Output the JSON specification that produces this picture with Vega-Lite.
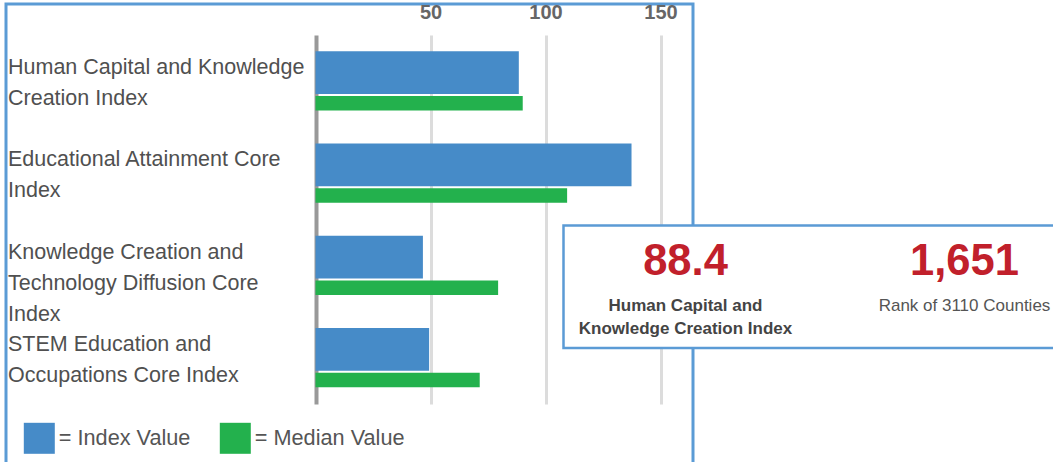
{
  "$schema": "https://vega.github.io/schema/vega-lite/v6.json",
  "background": "white",
  "padding": {"left": 6, "top": 2, "right": 0, "bottom": 0},
  "config": {"font": "Liberation Sans"},
  "datasets": {
    "bars": [
      {"category": "Human Capital and Knowledge Creation Index", "series": "Index Value", "value": 88.4},
      {"category": "Human Capital and Knowledge Creation Index", "series": "Median Value", "value": 90.1},
      {"category": "Educational Attainment Core Index", "series": "Index Value", "value": 137.4},
      {"category": "Educational Attainment Core Index", "series": "Median Value", "value": 109.4},
      {"category": "Knowledge Creation and Technology Diffusion Core Index", "series": "Index Value", "value": 46.7},
      {"category": "Knowledge Creation and Technology Diffusion Core Index", "series": "Median Value", "value": 79.4},
      {"category": "STEM Education and Occupations Core Index", "series": "Index Value", "value": 49.4},
      {"category": "STEM Education and Occupations Core Index", "series": "Median Value", "value": 71.4}
    ],
    "kpi": [
      {"metric": "score", "value": "88.4", "label": "Human Capital and\nKnowledge Creation Index"},
      {"metric": "rank", "value": "1,651", "label": "Rank of 3110 Counties"}
    ]
  },
  "width": 687,
  "height": 460,
  "view": {"stroke": "#5b9bd5", "strokeWidth": 3, "fill": "white"},
  "resolve": {"scale": {"x": "independent", "y": "independent"}},
  "layer": [
    {
      "data": {"name": "bars"},
      "encoding": {
        "y": {
          "field": "category",
          "type": "nominal",
          "sort": ["Human Capital and Knowledge Creation Index", "Educational Attainment Core Index", "Knowledge Creation and Technology Diffusion Core Index", "STEM Education and Occupations Core Index"],
          "scale": {"range": [31, 400], "paddingInner": 0, "paddingOuter": 0},
          "axis": {
            "orient": "left", "title": null, "domain": false, "ticks": false, "tickSize": 0, "grid": false,
            "offset": -1.5, "labelPadding": 0, "labelAlign": "left", "labelBaseline": "top", "labelOffset": -23.9,
            "labelFontSize": 21.5, "labelColor": "#505050", "labelFont": "Liberation Sans", "labelLineHeight": 31,
            "labelLimit": 500, "labelOverlap": false, "labelBound": false, "labelFlush": false,
            "labelExpr": "datum.label == 'Human Capital and Knowledge Creation Index' ? ['Human Capital and Knowledge', 'Creation Index'] : datum.label == 'Educational Attainment Core Index' ? ['Educational Attainment Core', 'Index'] : datum.label == 'Knowledge Creation and Technology Diffusion Core Index' ? ['Knowledge Creation and', 'Technology Diffusion Core', 'Index'] : ['STEM Education and', 'Occupations Core Index']"
          }
        },
        "x": {
          "field": "value",
          "type": "quantitative",
          "scale": {"domain": [0, 150], "range": [309.5, 654.5], "nice": false, "zero": true},
          "axis": {
            "orient": "top", "title": null, "values": [0, 50, 100, 150], "domain": false, "ticks": false, "tickSize": 0,
            "offset": -8.8, "labelPadding": 0, "labelBaseline": "middle", "labelFontSize": 20, "labelFontWeight": "bold",
            "labelColor": "#666666", "labelFont": "Liberation Sans", "labelFlush": false, "labelOverlap": false,
            "labelExpr": "datum.value === 0 ? '' : datum.label",
            "grid": true,
            "gridColor": {"condition": {"test": "datum.value === 0", "value": "#999999"}, "value": "#dcdcdc"},
            "gridWidth": {"condition": {"test": "datum.value === 0", "value": 4}, "value": 3}
          }
        },
        "color": {
          "field": "series",
          "type": "nominal",
          "scale": {"domain": ["Index Value", "Median Value"], "range": ["#468BC8", "#23B14D"]},
          "legend": {
            "orient": "none", "legendX": 17.8, "legendY": 418.8, "direction": "horizontal", "title": null,
            "symbolType": "square", "symbolSize": 961, "symbolStrokeWidth": 0, "symbolOpacity": 1,
            "labelFontSize": 21.7, "labelColor": "#555555", "labelFont": "Liberation Sans", "labelOffset": 4,
            "columnPadding": 29, "padding": 0, "labelExpr": "'= ' + datum.label"
          }
        }
      },
      "layer": [
        {"transform": [{"filter": "datum.series === 'Index Value'"}], "mark": {"type": "bar", "height": 42.7, "yOffset": -8.6}},
        {"transform": [{"filter": "datum.series === 'Median Value'"}], "mark": {"type": "bar", "height": 14.5, "yOffset": 22}}
      ]
    },
    {
      "data": {"name": "kpi"},
      "transform": [{"filter": "datum.metric === 'score'"}],
      "mark": {"type": "rect", "fill": "white", "stroke": "#5b9bd5", "strokeWidth": 2.5},
      "encoding": {
        "x": {"datum": "box", "type": "nominal", "scale": {"type": "band", "range": [557.5, 1115.5], "paddingInner": 0, "paddingOuter": 0}, "axis": null},
        "y": {"datum": "box", "type": "nominal", "scale": {"type": "band", "range": [221.5, 344], "paddingInner": 0, "paddingOuter": 0}, "axis": null}
      }
    },
    {
      "data": {"name": "kpi"},
      "encoding": {
        "x": {"field": "metric", "type": "nominal", "scale": {"type": "point", "domain": ["score", "rank"], "range": [679.5, 958.5], "padding": 0}, "axis": null}
      },
      "layer": [
        {"mark": {"type": "text", "fontSize": 43.5, "fontWeight": "bold", "color": "#C1202B", "baseline": "middle", "dy": 28.25, "font": "Liberation Sans"}, "encoding": {"text": {"field": "value"}}},
        {"transform": [{"filter": "datum.metric === 'score'"}], "mark": {"type": "text", "fontSize": 17, "fontWeight": "bold", "color": "#444444", "baseline": "middle", "lineBreak": "\n", "lineHeight": 23, "dy": 72, "font": "Liberation Sans"}, "encoding": {"text": {"field": "label"}}},
        {"transform": [{"filter": "datum.metric === 'rank'"}], "mark": {"type": "text", "fontSize": 17, "color": "#555555", "baseline": "middle", "dy": 72, "font": "Liberation Sans"}, "encoding": {"text": {"field": "label"}}}
      ]
    }
  ]
}
